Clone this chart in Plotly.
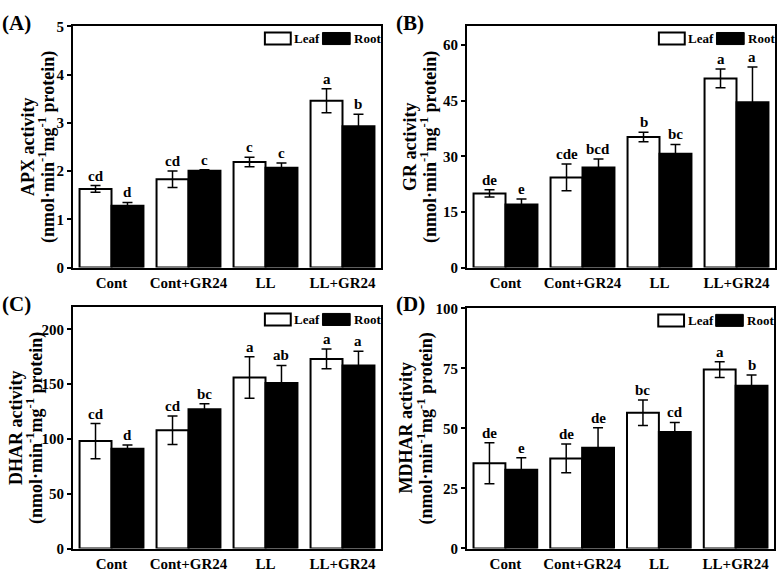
import plotly.graph_objects as go

categories = ["Cont", "Cont+GR24", "LL", "LL+GR24"]

apx_leaf = [1.63, 1.83, 2.19, 3.46]
apx_leaf_err = [0.07, 0.17, 0.10, 0.25]
apx_root = [1.28, 2.01, 2.07, 2.93]
apx_root_err = [0.07, 0.02, 0.10, 0.25]
apx_leaf_letters = ["cd", "cd", "c", "a"]
apx_root_letters = ["d", "c", "c", "b"]

gr_leaf = [20.0, 24.3, 35.2, 51.0]
gr_leaf_err = [1.0, 3.6, 1.3, 2.5]
gr_root = [17.0, 27.0, 30.7, 44.6]
gr_root_err = [1.5, 2.3, 2.5, 9.5]
gr_leaf_letters = ["de", "cde", "b", "a"]
gr_root_letters = ["e", "bcd", "bc", "a"]

dhar_leaf = [98.0, 108.0, 156.0, 173.0]
dhar_leaf_err = [16.0, 13.0, 19.0, 9.0]
dhar_root = [91.0, 127.0, 151.0, 167.0]
dhar_root_err = [3.5, 5.0, 16.0, 13.0]
dhar_leaf_letters = ["cd", "cd", "a", "a"]
dhar_root_letters = ["d", "bc", "ab", "a"]

mdhar_leaf = [35.5, 37.5, 56.5, 74.5]
mdhar_leaf_err = [8.5, 6.0, 5.3, 3.3]
mdhar_root = [32.8, 42.0, 48.5, 67.8]
mdhar_root_err = [5.0, 8.3, 4.0, 4.5]
mdhar_leaf_letters = ["de", "de", "bc", "a"]
mdhar_root_letters = ["e", "de", "cd", "b"]

panels = [
    dict(tag="(A)", name="APX activity", leaf=apx_leaf, le=apx_leaf_err, root=apx_root, re=apx_root_err,
         ll=apx_leaf_letters, rl=apx_root_letters, yr=[0, 5], dt=1),
    dict(tag="(B)", name="GR activity", leaf=gr_leaf, le=gr_leaf_err, root=gr_root, re=gr_root_err,
         ll=gr_leaf_letters, rl=gr_root_letters, yr=[0, 65], dt=15),
    dict(tag="(C)", name="DHAR activity", leaf=dhar_leaf, le=dhar_leaf_err, root=dhar_root, re=dhar_root_err,
         ll=dhar_leaf_letters, rl=dhar_root_letters, yr=[0, 220], dt=50),
    dict(tag="(D)", name="MDHAR activity", leaf=mdhar_leaf, le=mdhar_leaf_err, root=mdhar_root, re=mdhar_root_err,
         ll=mdhar_leaf_letters, rl=mdhar_root_letters, yr=[0, 100], dt=25),
]

W, H = 777, 574
# plot-area pixel boxes (left, right, top, bottom)
boxes = [(73, 381, 19, 267), (467, 775, 19, 267), (73, 381, 308, 556), (467, 774, 309, 556)]
# x centres of the two y-title lines
title_x = [(28, 47), (410, 429), (16, 35), (406, 426)]

FONT = "Liberation Serif"
BARGAP = 0.17

fig = go.Figure()
layout = dict(
    width=W, height=H,
    margin=dict(l=0, r=0, t=0, b=0),
    paper_bgcolor="white", plot_bgcolor="white",
    barmode="group", bargap=BARGAP, bargroupgap=0,
    showlegend=False,
    font=dict(family=FONT, size=15, color="black", weight="bold"),
)
annotations = []
shapes = []

for i, p in enumerate(panels):
    n = "" if i == 0 else str(i + 1)
    xa, ya = "x" + n, "y" + n
    l, r, t, b = boxes[i]
    err_style = dict(type="data", color="black", thickness=1.5, width=5)
    fig.add_trace(go.Bar(x=categories, y=p["leaf"], xaxis=xa, yaxis=ya, name="Leaf",
                         marker=dict(color="white", line=dict(color="black", width=2)),
                         error_y=dict(array=p["le"], **err_style)))
    fig.add_trace(go.Bar(x=categories, y=p["root"], xaxis=xa, yaxis=ya, name="Root",
                         marker=dict(color="black", line=dict(color="black", width=2)),
                         error_y=dict(array=p["re"], **err_style)))
    layout["xaxis" + n] = dict(
        domain=[l / W, r / W], anchor=ya, range=[-0.5, 3.5],
        showline=True, linecolor="black", linewidth=2, mirror=True,
        ticks="", showgrid=False, tickfont=dict(size=15), fixedrange=True,
    )
    layout["yaxis" + n] = dict(
        domain=[1 - b / H, 1 - t / H], anchor=xa, range=p["yr"],
        tickmode="linear", tick0=0, dtick=p["dt"],
        showline=True, linecolor="black", linewidth=2, mirror=True,
        ticks="outside", ticklen=4, tickwidth=2, tickcolor="black",
        showgrid=False, zeroline=False, tickfont=dict(size=15), fixedrange=True,
    )
    # y titles as two rotated lines
    yc = 1 - (t + b) / 2 / H
    annotations.append(dict(x=title_x[i][0] / W, y=yc, xref="paper", yref="paper",
                            text=p["name"], textangle=-90, showarrow=False,
                            xanchor="center", yanchor="middle", font=dict(size=18)))
    annotations.append(dict(x=title_x[i][1] / W, y=yc, xref="paper", yref="paper",
                            text="(nmol·min<sup>-1</sup>mg<sup>-1</sup> protein)", textangle=-90,
                            showarrow=False, xanchor="center", yanchor="middle", font=dict(size=18)))
    # significance letters
    cat_px = (r - l) / 4
    half = cat_px * (1 - BARGAP) / 4
    for j, c in enumerate(categories):
        annotations.append(dict(x=c, y=p["leaf"][j] + p["le"][j], xref=xa, yref=ya, text=p["ll"][j],
                                showarrow=False, xshift=-half, yanchor="bottom", yshift=0,
                                font=dict(size=15)))
        annotations.append(dict(x=c, y=p["root"][j] + p["re"][j], xref=xa, yref=ya, text=p["rl"][j],
                                showarrow=False, xshift=half, yanchor="bottom", yshift=0,
                                font=dict(size=15)))
    # panel tag
    annotations.append(dict(x=(l - 73) / W, y=1 - (t - 4) / H, xref="paper", yref="paper",
                            text=p["tag"], showarrow=False, xanchor="left", yanchor="middle",
                            font=dict(size=21)))
    # legend boxes
    xd, yd = xa + " domain", ya + " domain"
    shapes.append(dict(type="rect", xref=xd, yref=yd, x0=0.623, x1=0.707, y0=0.925, y1=0.975,
                       line=dict(color="black", width=2), fillcolor="white"))
    shapes.append(dict(type="rect", xref=xd, yref=yd, x0=0.81, x1=0.90, y0=0.925, y1=0.975,
                       line=dict(color="black", width=1), fillcolor="black"))
    annotations.append(dict(x=0.712, y=0.95, xref=xd, yref=yd, text="Leaf", showarrow=False,
                            xanchor="left", yanchor="middle", font=dict(size=13)))
    annotations.append(dict(x=0.905, y=0.95, xref=xd, yref=yd, text="Root", showarrow=False,
                            xanchor="left", yanchor="middle", font=dict(size=13)))

layout["annotations"] = annotations
layout["shapes"] = shapes
fig.update_layout(**layout)
fig.write_html(
    "out.html",
    config={"displayModeBar": False},
    post_script="document.documentElement.style.margin='0';document.body.style.margin='0';"
                "document.body.style.overflow='hidden';",
)
